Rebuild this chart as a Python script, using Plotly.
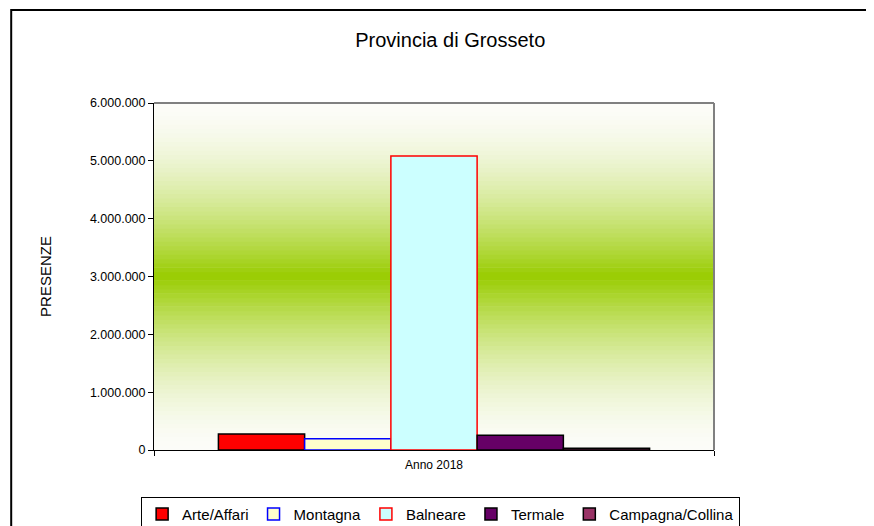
import plotly.graph_objects as go

# presenze turistiche per ambito, provincia di Grosseto
anno = ["Anno 2018"]
ambiti = ["Arte/Affari", "Montagna", "Balneare", "Termale", "Campagna/Collina"]
presenze = [277000, 195000, 5083000, 254000, 30000]
fill_colors = ["#FF0000", "#FFFFCC", "#CCFFFF", "#660066", "#993366"]
line_colors = ["#000000", "#0000FF", "#FF0000", "#000000", "#000000"]
y_ticks = [0, 1000000, 2000000, 3000000, 4000000, 5000000, 6000000]

fig = go.Figure()

for name, val, fc, lc in zip(ambiti, presenze, fill_colors, line_colors):
    fig.add_trace(
        go.Bar(
            x=anno,
            y=[val],
            name=name,
            marker=dict(color=fc, line=dict(color=lc, width=1.5))
        )
    )

# sfondo sfumato bianco -> verde -> bianco
shapes = []
n_strips = 80
for i in range(n_strips):
    t = (i + 0.5) / n_strips
    w = (1 - abs(t - 0.5) * 2) ** 1.7  # 0 ai bordi, 1 al centro
    r = round(252 + (0x99 - 252) * w)
    g = round(252 + (0xCC - 252) * w)
    b = round(248 + (0x00 - 248) * w)
    shapes.append(dict(
        type="rect", xref="x domain", yref="y domain",
        x0=0, x1=1, y0=i / n_strips, y1=(i + 1) / n_strips + 0.002,
        fillcolor=f"rgb({r},{g},{b})", line=dict(width=0), layer="below"
    ))

# bordo grigio superiore e destro dell'area del grafico
shapes.append(dict(type="line", xref="x domain", yref="y domain",
                   x0=0, x1=1, y0=1, y1=1, line=dict(color="#808080", width=2)))
shapes.append(dict(type="line", xref="x domain", yref="y domain",
                   x0=1, x1=1, y0=0, y1=1, line=dict(color="#808080", width=2)))

# cornice esterna del grafico
shapes.append(dict(type="rect", xref="paper", yref="paper",
                   x0=-0.255, x1=1.4, y0=-0.4, y1=1.268,
                   line=dict(color="#000000", width=2), fillcolor="rgba(0,0,0,0)"))

fig.update_layout(
    width=874,
    height=526,
    margin=dict(l=146, r=168, t=95, b=84, autoexpand=False),
    paper_bgcolor="white",
    plot_bgcolor="white",
    separators=",.",
    font=dict(family="Liberation Sans, Arial, sans-serif", color="#000000"),
    title=dict(
        text="Provincia di Grosseto",
        x=0.506, xanchor="center",
        y=0.939, yanchor="middle",
        font=dict(size=20)
    ),
    barmode="group",
    bargap=0.23,
    bargroupgap=0,
    shapes=shapes,
    showlegend=True,
    legend=dict(
        orientation="h",
        x=-0.023, xanchor="left",
        y=-0.135, yanchor="top",
        bordercolor="#000000",
        borderwidth=1,
        font=dict(size=15),
        itemwidth=30,
        tracegroupgap=0,
        traceorder="normal",
    ),
)

fig.update_xaxes(
    showline=True, linecolor="#000000", linewidth=1,
    ticks="outside", tickson="boundaries", ticklen=5, tickcolor="#000000",
    tickfont=dict(size=12), ticklabelstandoff=4, showgrid=False
)

fig.update_yaxes(
    range=[0, 6000000],
    tickvals=y_ticks,
    tickformat=",d",
    showline=True, linecolor="#000000", linewidth=1,
    ticks="outside", ticklen=5, tickcolor="#000000",
    tickfont=dict(size=12.5), showgrid=False, zeroline=False,
    title=dict(text="PRESENZE", font=dict(size=15), standoff=34)
)

fig.write_html("out.html")
